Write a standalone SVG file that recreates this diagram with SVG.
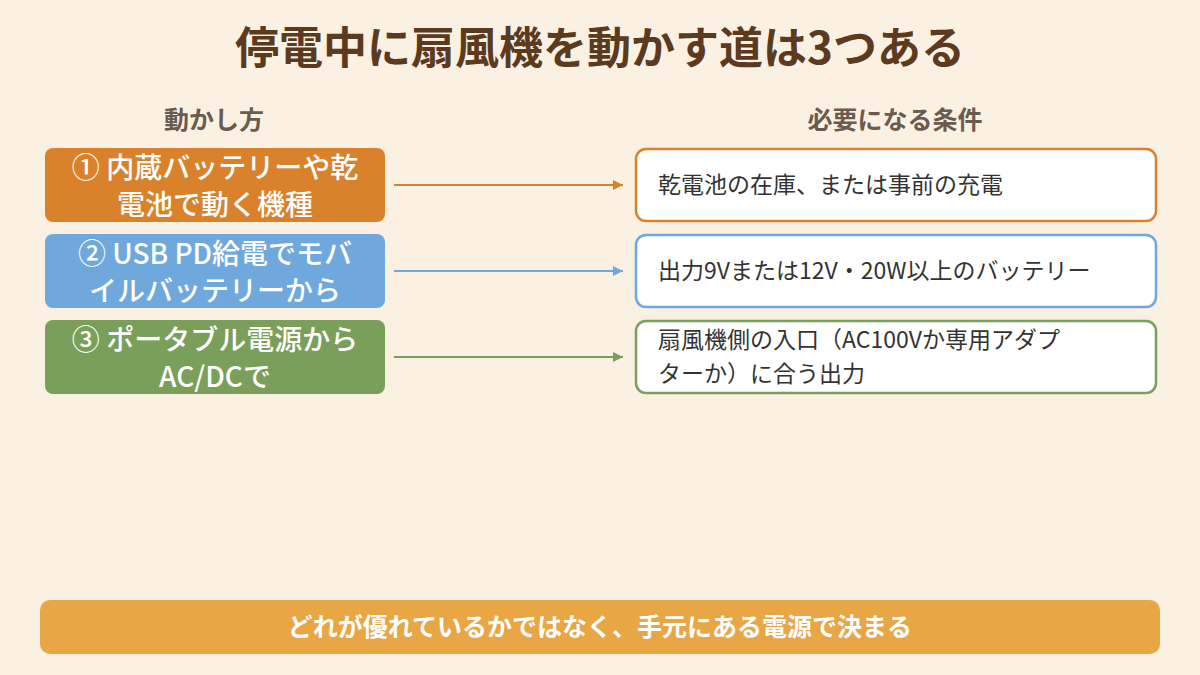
<svg xmlns="http://www.w3.org/2000/svg" width="1200" height="675" viewBox="0 0 1200 675">
<defs>
<style>
text{font-family:"Noto Sans CJK JP","Noto Sans",sans-serif}
.t{font-size:44px;font-weight:bold;fill:#5C3A1E;text-anchor:middle}
.h{font-size:25px;font-weight:bold;fill:#6B5A4E;text-anchor:middle}
.l{font-size:28px;font-weight:500;fill:#fff;text-anchor:middle}
.r{font-size:23px;fill:#333}
.rb{fill:#fff;stroke-width:2.5}
</style>
<marker id="ao" viewBox="0 0 10 10" refX="10" refY="5" markerWidth="10" markerHeight="10" markerUnits="userSpaceOnUse" orient="auto"><path d="M0,0L10,5L0,10z" fill="#D9822B"/></marker>
<marker id="ab" viewBox="0 0 10 10" refX="10" refY="5" markerWidth="10" markerHeight="10" markerUnits="userSpaceOnUse" orient="auto"><path d="M0,0L10,5L0,10z" fill="#6FA8DC"/></marker>
<marker id="ag" viewBox="0 0 10 10" refX="10" refY="5" markerWidth="10" markerHeight="10" markerUnits="userSpaceOnUse" orient="auto"><path d="M0,0L10,5L0,10z" fill="#7A9F5A"/></marker>
</defs>
<rect width="1200" height="675" fill="#FAF1E3"/>
<text class="t" x="600" y="64">停電中に扇風機を動かす道は3つある</text>
<text class="h" x="214" y="129">動かし方</text>
<text class="h" x="895" y="129">必要になる条件</text>
<g id="l1"><rect x="45" y="148" width="340" height="74" rx="8" fill="#D9822B"/><text class="l" x="215" y="178">① 内蔵バッテリーや乾</text><text class="l" x="215" y="215">電池で動く機種</text></g>
<g id="l2"><rect x="45" y="234" width="340" height="74" rx="8" fill="#6FA8DC"/><text class="l" x="215" y="264">② USB PD給電でモバ</text><text class="l" x="215" y="301">イルバッテリーから</text></g>
<g id="l3"><rect x="45" y="320" width="340" height="74" rx="8" fill="#7A9F5A"/><text class="l" x="215" y="350">③ ポータブル電源から</text><text class="l" x="215" y="387">AC/DCで</text></g>
<g id="r1"><rect class="rb" x="636" y="149" width="520" height="72" rx="10" stroke="#D9822B"/><text class="r" x="658" y="193">乾電池の在庫、または事前の充電</text></g>
<g id="r2"><rect class="rb" x="636" y="235" width="520" height="72" rx="10" stroke="#6FA8DC"/><text class="r" x="658" y="279">出力9Vまたは12V・20W以上のバッテリー</text></g>
<g id="r3"><rect class="rb" x="636" y="321" width="520" height="72" rx="10" stroke="#7A9F5A"/><text class="r" x="658" y="348">扇風機側の入口（AC100Vか専用アダプ</text><text class="r" x="658" y="382">ターか）に合う出力</text></g>
<g id="connectors" stroke-width="2">
<line x1="394" y1="185" x2="623" y2="185" stroke="#D9822B" marker-end="url(#ao)"/>
<line x1="394" y1="271" x2="623" y2="271" stroke="#6FA8DC" marker-end="url(#ab)"/>
<line x1="394" y1="357" x2="623" y2="357" stroke="#7A9F5A" marker-end="url(#ag)"/>
</g>
<g id="footer"><rect x="40" y="600" width="1120" height="54" rx="10" fill="#E8A645"/><text x="600" y="636" font-size="25" font-weight="bold" fill="#fff" text-anchor="middle">どれが優れているかではなく、手元にある電源で決まる</text></g>
</svg>
